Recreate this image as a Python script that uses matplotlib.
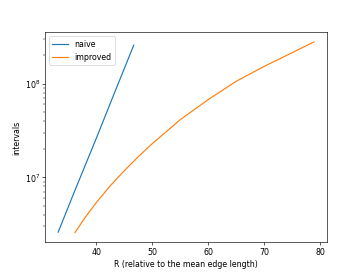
import matplotlib
matplotlib.use("Agg")
import matplotlib.pyplot as plt

# R values and number of intervals
naive_r = [33.2, 36.0, 40.0, 43.0, 46.7]
naive_intervals = [2.6e6, 6.8e6, 2.6e7, 7.3e7, 2.57e8]

improved_r = [36.2, 38, 40, 42.5, 45, 47.5, 50, 55, 60, 65, 70, 75, 78.9]
improved_intervals = [2.58e6, 3.72e6, 5.37e6, 8.13e6, 1.175e7, 1.66e7, 2.29e7,
                      4.12e7, 6.76e7, 1.06e8, 1.53e8, 2.14e8, 2.79e8]

fig = plt.figure(figsize=(6.4, 4.8), dpi=363 / 6.4)
plt.plot(naive_r, naive_intervals, label="naive")
plt.plot(improved_r, improved_intervals, label="improved")
plt.yscale("log")
plt.xlabel("R (relative to the mean edge length)")
plt.ylabel("intervals")
plt.legend(loc="upper left")
plt.savefig("out.png", dpi=363 / 6.4)
